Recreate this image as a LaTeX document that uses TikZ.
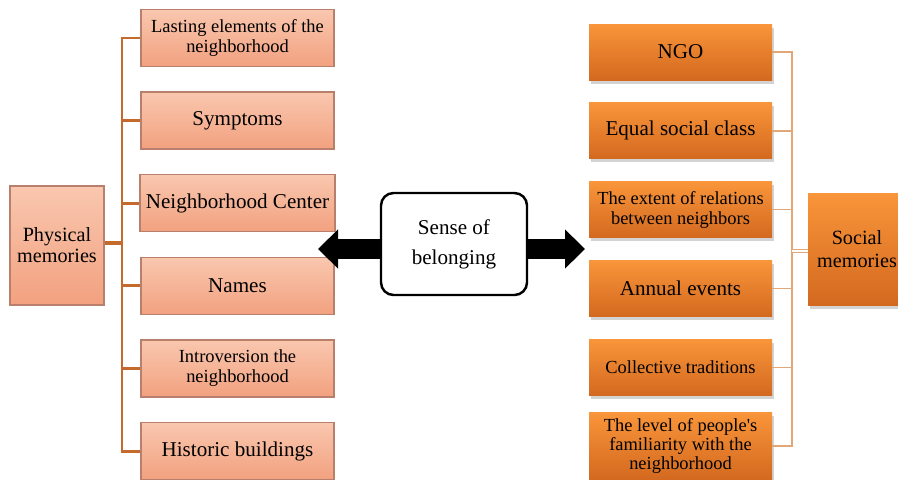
\documentclass[tikz,border=0pt]{standalone}
\usepackage{fontspec}
\setmainfont{Liberation Serif}
\usetikzlibrary{arrows.meta, shadows}
\definecolor{salmontop}{HTML}{F9C7AF}
\definecolor{salmonbot}{HTML}{F2A17F}
\definecolor{salmonedge}{HTML}{B8806C}
\definecolor{physline}{HTML}{C46A2C}
\definecolor{orangetop}{HTML}{F9953A}
\definecolor{orangebot}{HTML}{D3691F}
\definecolor{socline}{HTML}{E3A677}
\tikzstyle{physbox} = [draw=salmonedge, rectangle, line width=0.7pt, minimum height=1.14cm, minimum width=3.86cm, align=center, top color=salmontop, bottom color=salmonbot, font=\fontsize{12}{14}\selectfont]
\tikzstyle{socbox} = [rectangle, minimum height=1.12cm, minimum width=3.66cm, align=center, top color=orangetop, bottom color=orangebot, drop shadow={opacity=0.35, shadow xshift=0.04cm, shadow yshift=-0.07cm}, font=\fontsize{12}{14}\selectfont]
\tikzstyle{small} = [font=\fontsize{10.5}{11.3}\selectfont]
\tikzstyle{physwire} = [draw=physline, line width=1.7pt]
\tikzstyle{socwire} = [draw=socline, line width=0.8pt]
\tikzstyle{bigarrow} = [line width=0.4cm, -{Triangle[width=0.76cm, length=0.4cm]}]

\begin{document}
\begin{tikzpicture}
    \useasboundingbox (0,0) rectangle (17.96,-9.58);
    \clip (0,0) rectangle (17.96,-9.58);
    % physical memories
    \node[physbox, minimum width=1.88cm, minimum height=2.38cm, font=\fontsize{11.5}{12}\selectfont] (phys) at (1.14,-4.91) {Physical\\memories};
    \node[physbox, small] (lasting) at (4.75,-0.76) {Lasting elements of the\\neighborhood};
    \node[physbox, below of=lasting, node distance=1.652cm] (symptoms) {Symptoms};
    \node[physbox, below of=symptoms, node distance=1.652cm] (center) {Neighborhood Center};
    \node[physbox, below of=center, node distance=1.652cm] (names) {Names};
    \node[physbox, small, below of=names, node distance=1.652cm] (introversion) {Introversion the\\neighborhood};
    \node[physbox, below of=introversion, node distance=1.652cm] (historic) {Historic buildings};
    \coordinate (pbus) at (2.44,-4.86);
    \draw[physwire] (lasting.west) -| (pbus) |- (historic.west);
    \foreach \n in {symptoms, center, names, introversion}
        \draw[physwire] (pbus |- \n.west) -- (\n.west);
    \draw[physwire, line width=2.6pt] (phys.east |- pbus) -- (pbus);

    % sense of belonging
    \node[draw, rectangle, rounded corners=0.25cm, line width=1.4pt, fill=white, minimum width=2.92cm, minimum height=2.04cm, align=center, font=\fontsize{12}{17}\selectfont] (sense) at (9.08,-4.88) {Sense of\\belonging};
    \coordinate (lefttip) at (6.36,-4.98);
    \coordinate (righttip) at (11.7,-4.98);
    \draw[bigarrow] (sense.west |- lefttip) -- (lefttip);
    \draw[bigarrow] (sense.east |- righttip) -- (righttip);

    % social memories
    \node[socbox] (ngo) at (13.61,-1.04) {NGO};
    \node[socbox, below of=ngo, node distance=1.576cm] (equal) {Equal social class};
    \node[socbox, small, below of=equal, node distance=1.576cm] (extent) {The extent of relations\\between neighbors};
    \node[socbox, below of=extent, node distance=1.576cm] (annual) {Annual events};
    \node[socbox, small, below of=annual, node distance=1.576cm] (collective) {Collective traditions};
    \node[socbox, font=\fontsize{10.5}{11}\selectfont, below of=collective, node distance=1.576cm] (level) {The level of people\textquotesingle s\\familiarity with the\\neighborhood};
    \node[socbox, minimum width=1.96cm, minimum height=2.24cm, font=\fontsize{11.5}{13}\selectfont] (social) at (17.14,-4.98) {Social\\memories};
    \coordinate (sbus) at (15.84,-5.02);
    \draw[socwire] (ngo.east) -| (sbus) |- (level.east);
    \foreach \n in {equal, extent, annual, collective}
        \draw[socwire] (sbus |- \n.east) -- (\n.east);
    \draw[socwire, double=white, double distance=1pt] (sbus) -- (sbus -| social.west);
\end{tikzpicture}
\end{document}
